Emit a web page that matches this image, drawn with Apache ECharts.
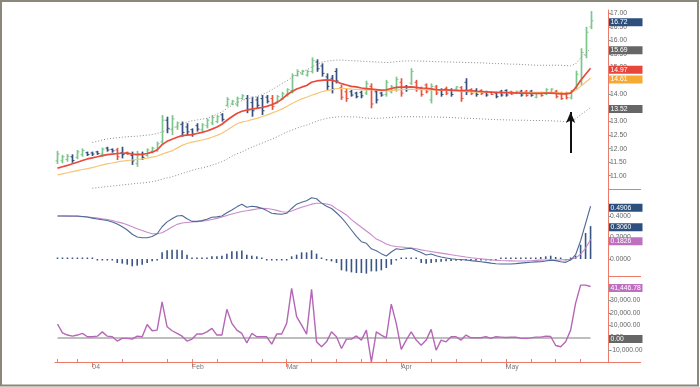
<!DOCTYPE html>
<html><head><meta charset="utf-8">
<script src="https://cdn.jsdelivr.net/npm/echarts@6/dist/echarts.min.js"></script>
<style>html,body{margin:0;padding:0;background:#fff}#c{width:700px;height:387px}</style>
</head><body><div id="c"></div>
<script>
// ---------- DATA ----------
const dates = ['12/22','12/23','12/24','12/26','12/29','12/30','12/31',
'01/02','01/05','01/06','01/07','01/08','01/09','01/12','01/13','01/14','01/15','01/16','01/20','01/21','01/22','01/23','01/26','01/27','01/28','01/29','01/30',
'02/02','02/03','02/04','02/05','02/06','02/09','02/10','02/11','02/12','02/13','02/17','02/18','02/19','02/20','02/23','02/24','02/25','02/26','02/27',
'03/01','03/02','03/03','03/04','03/05','03/08','03/09','03/10','03/11','03/12','03/15','03/16','03/17','03/18','03/19','03/22','03/23','03/24','03/25','03/26','03/29','03/30','03/31',
'04/01','04/02','04/05','04/06','04/07','04/08','04/12','04/13','04/14','04/15','04/16','04/19','04/20','04/21','04/22','04/23','04/26','04/27','04/28','04/29','04/30',
'05/03','05/04','05/05','05/06','05/07','05/10','05/11','05/12','05/13','05/14','05/17','05/18','05/19','05/20','05/21','05/24','05/25','05/26'];
const padCats = ['pad1','pad2','pad3'];
const monthNames = {'01':'04','02':'Feb','03':'Mar','04':'Apr','05':'May','12':'Dec'};

const opens = [11.55,11.55,11.60,11.70,11.68,11.78,11.85,11.84,11.88,11.80,
12.02,11.97,11.95,11.85,11.86,11.75,11.45,11.80,11.75,11.90,
11.95,12.25,13.05,12.70,12.80,12.90,12.80,12.70,12.85,12.70,
12.85,12.95,13.00,13.25,13.60,13.65,13.62,13.85,13.85,13.70,
13.80,13.85,13.90,13.85,13.72,13.85,13.98,14.15,14.70,14.76,
14.72,14.85,15.20,15.05,14.65,14.60,14.85,14.25,14.10,14.10,
14.05,14.08,14.05,14.30,14.10,14.05,14.00,14.10,14.18,14.45,
14.30,14.42,14.45,14.22,14.35,13.80,14.28,14.18,14.22,14.15,
14.20,14.25,14.45,14.18,14.15,14.15,14.10,14.08,14.05,14.12,
14.15,14.10,14.04,14.12,14.12,14.12,13.90,14.06,14.02,14.08,
14.12,14.05,14.02,13.88,14.25,14.50,15.45,16.50];
const highs = [11.92,11.77,11.80,11.79,11.95,12.01,11.89,11.89,11.92,12.04,
12.07,12.01,12.03,12.07,11.89,11.89,11.92,11.89,12.01,12.07,
12.26,13.24,13.18,13.24,13.00,13.00,12.94,12.75,12.94,12.94,
13.12,13.24,13.24,13.31,13.90,13.80,13.92,14.01,13.98,13.92,
13.92,13.98,13.98,13.98,13.98,14.10,14.23,14.78,14.93,14.91,
14.91,15.37,15.30,15.15,14.78,14.72,14.97,14.35,14.23,14.17,
14.10,14.14,14.51,14.41,14.17,14.10,14.54,14.35,14.66,14.60,
14.35,14.97,14.54,14.29,14.41,14.41,14.35,14.23,14.29,14.23,
14.31,14.31,14.60,14.23,14.23,14.19,14.14,14.10,14.10,14.17,
14.19,14.14,14.14,14.17,14.17,14.17,14.07,14.10,14.23,14.23,
14.17,14.10,14.10,14.17,14.88,15.71,16.50,17.08];
const lows = [11.43,11.46,11.52,11.48,11.61,11.70,11.73,11.73,11.77,11.70,
11.89,11.85,11.58,11.64,11.77,11.40,11.33,11.58,11.70,11.83,
11.89,12.13,12.57,12.50,12.69,12.44,12.50,12.44,12.63,12.63,
12.75,12.87,12.94,13.00,13.55,13.61,13.55,13.80,13.31,13.18,
13.49,13.24,13.67,13.43,13.67,13.80,13.92,14.04,14.66,14.72,
14.66,14.78,14.84,14.66,14.17,14.04,14.41,13.80,13.73,13.92,
13.86,13.86,13.98,13.49,13.67,13.92,13.92,14.04,14.10,13.92,
14.10,14.35,14.10,13.92,14.04,13.67,13.98,13.92,13.98,13.92,
14.17,13.73,13.98,13.98,13.92,13.98,13.92,13.98,13.86,13.92,
13.92,13.98,14.01,13.92,13.92,13.92,13.86,13.92,13.98,14.04,
13.86,13.80,13.82,13.82,14.17,14.33,15.34,16.41];
const closes = [11.80,11.70,11.72,11.56,11.88,11.93,11.78,11.80,11.82,11.98,
11.95,11.92,11.70,11.78,11.80,11.55,11.82,11.68,11.95,12.02,
12.18,13.05,12.75,13.10,12.95,12.60,12.62,12.52,12.72,12.88,
13.05,13.15,13.18,13.08,13.82,13.75,13.85,13.95,13.45,13.40,
13.60,13.40,13.75,13.55,13.92,14.02,14.18,14.70,14.85,14.86,
14.85,15.25,14.95,14.78,14.30,14.20,14.50,13.90,13.85,13.98,
13.92,13.95,14.40,13.65,13.80,13.98,14.45,14.28,14.55,14.05,
14.18,14.85,14.20,14.00,14.10,14.30,14.05,14.00,14.05,14.00,
14.28,13.85,14.10,14.03,14.00,14.03,13.98,14.00,13.92,13.98,
13.98,14.02,14.12,13.98,13.96,13.97,14.04,13.96,14.18,14.20,
13.92,13.85,13.88,14.12,14.75,15.55,16.30,16.72];
const barColors = ('gggbggbbbg'+'bbrbrbgbgg'+'ggbggbbbbg'+'gggbggggbb'+'bbbrgggggg'+
  'ggbbbbbrrb'+'bbgrbbgggr'+'bgrrrgrbrb'+'grbrbrbrbb'+'brgbrbgrgg'+'rrrggggg').split('');

const maFast = [11.28,11.33,11.38,11.44,11.50,11.56,11.62,11.66,11.70,11.74,
11.78,11.80,11.82,11.83,11.84,11.80,11.78,11.79,11.82,11.87,
11.95,12.15,12.27,12.35,12.42,12.48,12.50,12.52,12.56,12.60,
12.65,12.72,12.80,12.90,13.05,13.18,13.30,13.38,13.42,13.46,
13.49,13.52,13.56,13.62,13.70,13.82,13.98,14.10,14.20,14.27,
14.33,14.45,14.50,14.52,14.54,14.53,14.48,14.40,14.35,14.30,
14.28,14.24,14.22,14.20,14.18,14.16,14.17,14.22,14.26,14.27,
14.27,14.28,14.26,14.24,14.23,14.21,14.18,14.17,14.17,14.16,
14.15,14.14,14.15,14.14,14.12,14.11,14.10,14.09,14.08,14.07,
14.07,14.06,14.06,14.05,14.05,14.04,14.04,14.04,14.05,14.05,
14.04,14.02,14.02,14.05,14.25,14.52,14.75,14.97];
const maSlow = [11.03,11.07,11.11,11.15,11.19,11.23,11.26,11.30,11.35,11.40,
11.44,11.47,11.51,11.54,11.56,11.58,11.60,11.62,11.65,11.69,
11.73,11.80,11.86,11.92,12.02,12.12,12.19,12.24,12.28,12.32,
12.36,12.42,12.49,12.57,12.68,12.80,12.92,12.98,13.02,13.07,
13.12,13.18,13.24,13.31,13.38,13.46,13.56,13.66,13.75,13.84,
13.90,13.97,14.03,14.10,14.14,14.17,14.22,14.23,14.22,14.20,
14.19,14.18,14.17,14.17,14.16,14.14,14.13,14.14,14.16,14.18,
14.19,14.19,14.19,14.18,14.18,14.17,14.17,14.16,14.15,14.14,
14.13,14.12,14.11,14.10,14.09,14.09,14.08,14.08,14.08,14.08,
14.08,14.08,14.08,14.08,14.08,14.08,14.08,14.08,14.08,14.08,
14.07,14.06,14.05,14.06,14.16,14.30,14.45,14.61];
const envUpper = [null,null,null,null,null,null,null,12.23,12.27,12.32,
12.36,12.38,12.40,12.42,12.44,12.45,12.46,12.48,12.50,12.52,
12.56,12.62,12.69,12.75,12.83,12.91,12.98,13.03,13.06,13.09,
13.12,13.19,13.27,13.36,13.48,13.60,13.70,13.77,13.83,13.88,
13.92,13.99,14.07,14.17,14.28,14.40,14.50,14.62,14.73,14.83,
14.91,15.01,15.10,15.19,15.23,15.25,15.27,15.27,15.26,15.25,
15.24,15.23,15.22,15.21,15.20,15.19,15.18,15.19,15.21,15.23,
15.24,15.24,15.24,15.23,15.23,15.22,15.21,15.21,15.20,15.20,
15.19,15.19,15.18,15.18,15.17,15.17,15.16,15.15,15.14,15.14,
15.13,15.12,15.12,15.11,15.10,15.09,15.08,15.08,15.08,15.08,
15.08,15.08,15.07,15.06,15.13,15.35,15.53,15.69];
const envLower = [null,null,null,null,null,null,null,10.54,10.56,10.58,
10.60,10.62,10.64,10.66,10.68,10.70,10.72,10.73,10.75,10.78,
10.82,10.87,10.92,10.96,11.02,11.08,11.14,11.20,11.25,11.29,
11.33,11.39,11.45,11.52,11.61,11.72,11.81,11.88,11.97,12.05,
12.13,12.20,12.27,12.35,12.43,12.52,12.61,12.68,12.75,12.82,
12.87,12.94,13.01,13.07,13.11,13.15,13.17,13.18,13.18,13.17,
13.17,13.15,13.13,13.12,13.12,13.13,13.14,13.15,13.17,13.18,
13.18,13.18,13.18,13.17,13.17,13.17,13.17,13.16,13.16,13.15,
13.14,13.13,13.12,13.12,13.11,13.10,13.09,13.08,13.07,13.07,
13.06,13.06,13.05,13.05,13.05,13.04,13.04,13.04,13.03,13.03,
13.02,13.01,13.00,13.02,13.10,13.25,13.38,13.52];

const macdLine = [0.400,0.400,0.400,0.400,0.400,0.395,0.390,0.380,0.372,0.365,
0.358,0.345,0.325,0.300,0.270,0.230,0.205,0.198,0.198,0.210,
0.235,0.300,0.345,0.375,0.400,0.405,0.375,0.350,0.350,0.357,
0.370,0.388,0.392,0.400,0.430,0.456,0.485,0.509,0.481,0.490,
0.485,0.471,0.450,0.425,0.420,0.416,0.425,0.470,0.510,0.528,
0.542,0.570,0.560,0.520,0.490,0.470,0.430,0.385,0.330,0.270,
0.210,0.161,0.146,0.095,0.077,0.050,0.028,0.065,0.095,0.088,
0.095,0.100,0.080,0.060,0.037,0.047,0.030,0.018,0.010,0.002,
-0.002,-0.005,-0.009,-0.015,-0.020,-0.025,-0.031,-0.038,-0.044,-0.047,
-0.047,-0.047,-0.043,-0.038,-0.034,-0.030,-0.027,-0.025,-0.018,-0.010,
-0.015,-0.025,-0.031,-0.010,0.040,0.170,0.330,0.4906];
const signalLine = [0.400,0.400,0.399,0.398,0.396,0.394,0.390,0.385,0.380,0.373,
0.367,0.358,0.345,0.334,0.318,0.300,0.282,0.265,0.248,0.235,
0.235,0.244,0.270,0.298,0.322,0.335,0.340,0.344,0.347,0.352,
0.358,0.368,0.378,0.390,0.405,0.418,0.430,0.442,0.449,0.457,
0.465,0.471,0.469,0.462,0.452,0.440,0.435,0.447,0.465,0.481,
0.495,0.510,0.518,0.518,0.512,0.500,0.466,0.440,0.410,0.366,
0.330,0.295,0.260,0.225,0.185,0.165,0.140,0.124,0.117,0.112,
0.107,0.103,0.095,0.085,0.077,0.070,0.062,0.055,0.048,0.040,
0.032,0.025,0.018,0.012,0.007,0.002,-0.003,-0.008,-0.011,-0.014,
-0.016,-0.017,-0.018,-0.019,-0.019,-0.016,-0.013,-0.010,-0.009,-0.009,
-0.009,-0.008,-0.006,-0.003,0.010,0.045,0.100,0.1826];
const histogram = [0.002,0.002,0.002,0.002,0.002,0.002,0.002,0.002,-0.006,-0.006,
-0.006,-0.006,-0.037,-0.043,-0.053,-0.068,-0.062,-0.053,-0.037,-0.022,
-0.006,0.062,0.081,0.087,0.087,0.081,0.040,0.003,0.003,0.003,
0.010,0.025,0.025,0.031,0.050,0.071,0.071,0.078,0.040,0.031,
0.025,0.009,-0.005,-0.008,-0.010,-0.008,-0.005,0.025,0.040,0.062,
0.062,0.081,0.050,0.009,-0.012,-0.022,-0.037,-0.105,-0.115,-0.124,
-0.130,-0.130,-0.136,-0.115,-0.115,-0.105,-0.084,-0.053,-0.006,0.000,
0.006,0.012,0.000,-0.037,-0.043,-0.037,-0.031,-0.025,-0.022,-0.019,
-0.016,-0.016,-0.012,-0.006,-0.006,-0.006,-0.006,-0.006,-0.006,0.003,
0.003,0.003,0.003,0.003,0.009,0.009,0.012,0.019,0.025,0.031,
0.019,0.006,-0.006,0.000,0.031,0.133,0.242,0.306];

const oscillator = [11000,3800,2000,1100,2000,3300,600,600,1100,4600,
1100,600,-2900,-700,-700,-1300,1100,600,10600,5500,
6000,29000,8700,5500,3300,1100,-2900,-1300,2800,2800,
4600,7400,2000,2000,22900,11500,6000,3300,-4300,3300,
600,600,600,-5400,2800,2800,11500,40000,16900,10100,
2800,39100,-3500,-7500,-3500,4600,600,-8900,-1300,-1300,
1300,-2100,6000,-19800,4600,2000,-200,27200,11500,-9700,
-2100,4600,-2100,-6200,-2100,6600,-10300,-2100,-3500,600,
600,-2100,2000,-200,-200,-200,600,-700,600,300,
0,200,300,-700,-700,-300,300,300,1100,800,
-6500,-7500,-3500,6000,28000,42600,42600,41447];

const priceTicks = [11,11.5,12,12.5,13,13.5,14,14.5,15,15.5,16,16.5,17];
const macdTicks = [0,0.2,0.4];
const oscTicks = [-10000,0,10000,20000,30000,40000];

const lastClose = 16.72, lastUpper = 15.69, lastFast = 14.97, lastSlow = 14.61, lastLower = 13.52;
const lastMacd = 0.4906, lastHist = 0.3060, lastSignal = 0.1826;
const lastOsc = 41446.78, oscZero = 0;
const arrowDate = '05/20', arrowFrom = 11.84, arrowTo = 13.35;

// ---------- CHART ----------
const FONT = '"Liberation Sans", Arial, sans-serif';
const FS = 6.8;
const AXIS = '#ee7a6a';
const C = {g:'#7cc78c', b:'#34507f', r:'#e8553f'};
const NAVY = '#2d4f7d', GREY = '#666666', PINK = '#bf6fbf';
const cats = dates.concat(padCats);

function monthOf(i){ return dates[i].slice(0,2); }
function isMonthStart(i){ return i>0 && i<dates.length && monthOf(i)!==monthOf(i-1); }
function isMonday(i){
  if(i<0||i>=dates.length) return false;
  const [m,d] = dates[i].split('/').map(Number);
  return new Date(m===12?2003:2004, m-1, d).getDay()===1;
}
function weekTick(i){
  if(!isMonday(i)) return false;
  for(let k=1;k<=3;k++) if(isMonthStart(i-k)) return false;
  return true;
}
const NOLINE = {color:'rgba(0,0,0,0)', width:0, type:'solid'};
function box(v, text, bg){
  return {yAxis:v, lineStyle:NOLINE, label:{show:true, position:'end', distance:1, formatter:text,
    backgroundColor:bg, color:'#fff', fontSize:FS, fontFamily:FONT, width:31, height:8, lineHeight:8,
    padding:[0,1,0,1.5], offset:[0,1.5], overflow:'none'}};
}
const mlBase = {symbol:['none','none'], silent:true, animation:false, lineStyle:NOLINE, label:{show:false}};

const grids = [
  {left:55, right:92, top:10, height:179},
  {left:55, right:92, top:189, height:87},
  {left:55, right:92, top:276, height:86},
  {left:55, right:92, top:276, height:86}
];
const hiddenX = (g)=>({type:'category', gridIndex:g, data:cats, boundaryGap:true, show:false, axisLine:{onZero:false}});
function yAx(g, min, max, ticks, fmt){
  return {type:'value', gridIndex:g, position:'right', min, max, scale:true,
    splitLine:{show:false},
    axisLine:{show:true, onZero:false, lineStyle:{color:AXIS, width:1}},
    axisTick:{show:true, customValues:ticks, length:3, lineStyle:{color:'#999'}},
    axisLabel:{customValues:ticks, formatter:fmt, fontSize:FS, color:'#666', margin:2, fontFamily:FONT}};
}
const fmtOsc = v => v.toLocaleString('en-US',{minimumFractionDigits:2, maximumFractionDigits:2});

const option = {
  animation:false,
  backgroundColor:'#fff',
  grid: grids,
  xAxis: [
    hiddenX(0), hiddenX(1),
    {type:'category', gridIndex:2, data:cats, boundaryGap:true,
     axisLine:{show:true, onZero:false, lineStyle:{color:AXIS, width:1}},
     axisTick:{show:true, alignWithLabel:true, interval:(i)=>isMonthStart(i), length:5, lineStyle:{color:AXIS}},
     axisLabel:{interval:(i)=>isMonthStart(i), formatter:(v)=>monthNames[v.slice(0,2)]||'',
       align:'left', fontSize:FS, color:'#777', margin:2, fontFamily:FONT}},
    {type:'category', gridIndex:3, data:cats, boundaryGap:true,
     axisLine:{show:false, onZero:false}, axisLabel:{show:false},
     axisTick:{show:true, alignWithLabel:true, inside:true, interval:(i)=>weekTick(i), length:3, lineStyle:{color:AXIS}}}
  ],
  yAxis: [
    yAx(0, 10.51, 17.12, priceTicks, v=>v.toFixed(2)),
    yAx(1, -0.158, 0.651, macdTicks, v=>v.toFixed(4)),
    yAx(2, -19900, 50000, oscTicks, fmtOsc),
    {type:'value', gridIndex:3, show:false, min:0, max:1}
  ],
  graphic: [
    {type:'line', silent:true, shape:{x1:608,y1:189.5,x2:641,y2:189.5}, style:{stroke:AXIS, lineWidth:1}},
    {type:'line', silent:true, shape:{x1:608,y1:276.5,x2:641,y2:276.5}, style:{stroke:AXIS, lineWidth:1}},
    {type:'line', silent:true, shape:{x1:608,y1:362.5,x2:641,y2:362.5}, style:{stroke:AXIS, lineWidth:1}},
    {type:'rect', silent:true, z:100, shape:{x:1,y:1,width:697,height:384.5}, style:{fill:'none', stroke:'#8c877b', lineWidth:2}}
  ],
  series: [
    {type:'line', name:'upper', xAxisIndex:0, yAxisIndex:0, data:envUpper, showSymbol:false, connectNulls:false,
     lineStyle:{color:'#8c8c8c', width:1, type:[1,2]},
     markLine:Object.assign({}, mlBase, {data:[box(lastClose, lastClose.toFixed(2), NAVY), box(lastUpper, lastUpper.toFixed(2), GREY)]})},
    {type:'line', name:'lower', xAxisIndex:0, yAxisIndex:0, data:envLower, showSymbol:false,
     lineStyle:{color:'#8c8c8c', width:1, type:[1,2]},
     markLine:Object.assign({}, mlBase, {data:[
       box(lastLower, lastLower.toFixed(2), GREY),
       [{coord:[arrowDate, arrowFrom], symbol:'none'},
        {coord:[arrowDate, arrowTo], symbol:'arrow', symbolSize:[7,11], lineStyle:{color:'#111', width:2, type:'solid', opacity:1}, label:{show:false}}]
     ]})},
    {type:'line', name:'slow', xAxisIndex:0, yAxisIndex:0, data:maSlow, showSymbol:false,
     lineStyle:{color:'#f8c576', width:1.2},
     markLine:Object.assign({}, mlBase, {data:[box(lastSlow, lastSlow.toFixed(2), '#f7a933')]})},
    {type:'custom', name:'ohlc', xAxisIndex:0, yAxisIndex:0,
     data: dates.map((d,i)=>[i, opens[i], highs[i], lows[i], closes[i]]),
     encode:{x:0, y:[1,2,3,4]},
     renderItem:(params, api)=>{
       const i = api.value(0);
       const o = api.coord([i, api.value(1)]);
       const h = api.coord([i, api.value(2)]);
       const l = api.coord([i, api.value(3)]);
       const c = api.coord([i, api.value(4)]);
       const col = C[barColors[i]];
       const x = Math.round(o[0]) + 0.5;
       return {type:'group', children:[
         {type:'line', shape:{x1:x, y1:h[1], x2:x, y2:l[1]}, style:{stroke:col, lineWidth:1.7}},
         {type:'line', shape:{x1:x-2, y1:o[1], x2:x, y2:o[1]}, style:{stroke:col, lineWidth:1}},
         {type:'line', shape:{x1:x, y1:c[1], x2:x+2, y2:c[1]}, style:{stroke:col, lineWidth:1}}
       ]};
     }},
    {type:'line', name:'fast', xAxisIndex:0, yAxisIndex:0, data:maFast, showSymbol:false, z:5,
     lineStyle:{color:'#e84a3b', width:1.7},
     markLine:Object.assign({}, mlBase, {data:[box(lastFast, lastFast.toFixed(2), '#e8463a')]})},

    {type:'bar', name:'hist', xAxisIndex:1, yAxisIndex:1, data:histogram, barWidth:1.6, barMinHeight:1.5,
     itemStyle:{color:'#3a5585'},
     markLine:Object.assign({}, mlBase, {data:[box(lastHist, lastHist.toFixed(4), NAVY)]})},
    {type:'line', name:'signal', xAxisIndex:1, yAxisIndex:1, data:signalLine, showSymbol:false,
     lineStyle:{color:'#c98ac9', width:1.1},
     markLine:Object.assign({}, mlBase, {data:[box(lastSignal, lastSignal.toFixed(4), PINK)]})},
    {type:'line', name:'macd', xAxisIndex:1, yAxisIndex:1, data:macdLine, showSymbol:false,
     lineStyle:{color:'#4f6a96', width:1.1},
     markLine:Object.assign({}, mlBase, {data:[box(lastMacd, lastMacd.toFixed(4), NAVY)]})},

    {type:'line', name:'osc', xAxisIndex:2, yAxisIndex:2, data:oscillator, showSymbol:false, z:3,
     lineStyle:{color:'#b566b5', width:1.4},
     markLine:Object.assign({}, mlBase, {z:2, data:[
       [{coord:[dates[0], oscZero]}, {coord:[dates[dates.length-1], oscZero], lineStyle:{color:'#a9a9a9', width:1.5, type:'solid', opacity:1}}],
       box(lastOsc, fmtOsc(lastOsc), PINK),
       box(oscZero, fmtOsc(oscZero), GREY)
     ]})}
  ]
};
const chart = echarts.init(document.getElementById('c'), null, {renderer:'canvas'});
chart.setOption(option);
</script></body></html>
